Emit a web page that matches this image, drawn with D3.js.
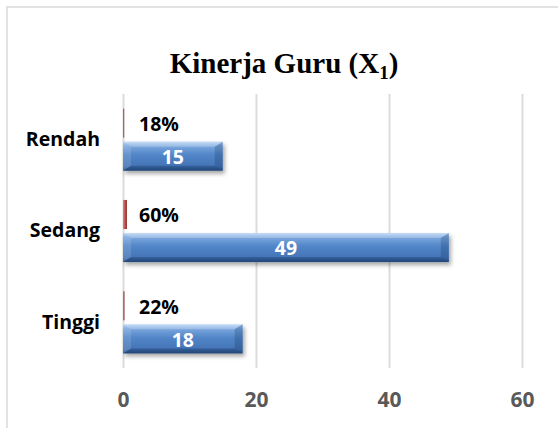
<!DOCTYPE html>
<html>
<head>
<meta charset="utf-8">
<script src="https://cdn.jsdelivr.net/npm/d3@7"></script>
<style>
  body { margin: 0; background: #fff; }
  svg { display: block; }
</style>
</head>
<body>
<svg id="chart"></svg>
<script>
// Data
const categories = ["Rendah", "Sedang", "Tinggi"];
const jumlah = [15, 49, 18];
const persen = [0.18, 0.60, 0.22];
const xTicks = [0, 20, 40, 60];
const series = ["persen", "jumlah"];

// Size
const width = 558,
    height = 428;
const plot = { top: 94, bottom: 368, left: 123, right: 522 };
const labelFont = "'Open Sans', 'DejaVu Sans', sans-serif";

const svg = d3.select("#chart")
    .attr("width", width)
    .attr("height", height);

// Defs: gradients + shadow
const defs = svg.append("defs");
const blue = defs.append("linearGradient").attr("id", "gBlue")
    .attr("x1", 0).attr("x2", 0).attr("y1", 0).attr("y2", 1);
[["0%", "#b3d0f4"], ["14%", "#7ca8df"], ["45%", "#5286c8"], ["85%", "#4474b6"], ["100%", "#2d5386"]]
    .forEach(s => blue.append("stop").attr("offset", s[0]).attr("stop-color", s[1]));
const red = defs.append("linearGradient").attr("id", "gRed")
    .attr("x1", 0).attr("x2", 1).attr("y1", 0).attr("y2", 0);
[["0%", "#d98b88"], ["50%", "#c0504d"], ["100%", "#8c3431"]]
    .forEach(s => red.append("stop").attr("offset", s[0]).attr("stop-color", s[1]));
const shadow = defs.append("filter").attr("id", "shadow")
    .attr("x", "-10%").attr("y", "-20%").attr("width", "130%").attr("height", "160%");
shadow.append("feDropShadow")
    .attr("dx", 2).attr("dy", 3).attr("stdDeviation", 2)
    .attr("flood-color", "#000").attr("flood-opacity", 0.35);

// Chart border
svg.append("rect")
    .attr("x", 7).attr("y", 7)
    .attr("width", 560).attr("height", 440)
    .attr("fill", "none")
    .attr("stroke", "#d9d9d9")
    .attr("stroke-width", 1.5);

// Title
const title = svg.append("text")
    .attr("x", 284).attr("y", 73)
    .attr("text-anchor", "middle")
    .style("font-family", "'Liberation Serif', 'Times New Roman', serif")
    .style("font-weight", "bold")
    .style("font-size", "29px")
    .attr("fill", "#000");
title.append("tspan").text("Kinerja Guru (X");
title.append("tspan").attr("dy", 6).style("font-size", "19px").text("1");
title.append("tspan").attr("dy", -6).text(")");

// Scales
const x = d3.scaleLinear()
    .domain([0, 60])
    .range([plot.left, plot.right]);

const y = d3.scaleBand()
    .domain(categories)
    .range([plot.top, plot.bottom])
    .paddingInner(0.32)
    .paddingOuter(0.16);

const ySub = d3.scaleBand()
    .domain(series)
    .range([0, y.bandwidth()])
    .paddingInner(0.12);

// Grid + x axis labels
const xAxis = g => g
    .attr("transform", `translate(0,${plot.bottom})`)
    .call(d3.axisBottom(x).tickValues(xTicks).tickSize(-(plot.bottom - plot.top)).tickPadding(24))
    .call(g => g.select(".domain").remove())
    .call(g => g.selectAll(".tick line").attr("stroke", "#dcdcdc").attr("stroke-width", 2))
    .call(g => g.selectAll(".tick text")
        .attr("fill", "#595959")
        .style("font-family", labelFont)
        .style("font-weight", "bold")
        .style("font-size", "21px"));
svg.append("g").attr("class", "xaxis").call(xAxis);

// Category labels
const yAxis = g => g
    .attr("transform", `translate(${plot.left},0)`)
    .call(d3.axisLeft(y).tickSize(0).tickPadding(23))
    .call(g => g.select(".domain").remove())
    .call(g => g.selectAll(".tick text")
        .attr("fill", "#000")
        .style("font-family", labelFont)
        .style("font-weight", "bold")
        .style("font-size", "19.5px"));
svg.append("g").attr("class", "yaxis").call(yAxis);

// Bar with bevel
const bevelBar = (g, x0, y0, w, h, fill) => {
    g.append("rect")
        .attr("x", x0).attr("y", y0)
        .attr("width", w).attr("height", h)
        .attr("fill", fill)
        .attr("filter", "url(#shadow)");
    const bx = Math.min(8, w / 2), by = 5;
    // top facet
    g.append("polygon")
        .attr("points", [[x0, y0], [x0 + w, y0], [x0 + w - bx, y0 + by], [x0 + bx, y0 + by]].join(" "))
        .attr("fill", "#fff").attr("fill-opacity", 0.25);
    // bottom facet
    g.append("polygon")
        .attr("points", [[x0, y0 + h], [x0 + w, y0 + h], [x0 + w - bx, y0 + h - by], [x0 + bx, y0 + h - by]].join(" "))
        .attr("fill", "#0b2950").attr("fill-opacity", 0.3);
    // right facet
    g.append("polygon")
        .attr("points", [[x0 + w, y0], [x0 + w, y0 + h], [x0 + w - bx, y0 + h - by], [x0 + w - bx, y0 + by]].join(" "))
        .attr("fill", "#0b2950").attr("fill-opacity", 0.22);
    // left facet
    g.append("polygon")
        .attr("points", [[x0, y0], [x0, y0 + h], [x0 + bx, y0 + h - by], [x0 + bx, y0 + by]].join(" "))
        .attr("fill", "#fff").attr("fill-opacity", 0.12);
};

const bars = svg.append("g").attr("class", "bars");
categories.forEach((c, i) => {
    // persen (red)
    const yr = y(c) + ySub("persen");
    bars.append("rect")
        .attr("x", x(0)).attr("y", yr)
        .attr("width", x(persen[i]) - x(0))
        .attr("height", ySub.bandwidth())
        .attr("fill", "url(#gRed)");
    bars.append("text")
        .attr("x", x(0) + 16)
        .attr("y", yr + ySub.bandwidth() / 2 + 1)
        .attr("dy", "0.35em")
        .attr("fill", "#000")
        .style("font-family", labelFont)
        .style("font-weight", "bold")
        .style("font-size", "19.5px")
        .text(Math.round(persen[i] * 100) + "%");

    // jumlah (blue)
    const yb = y(c) + ySub("jumlah");
    const gb = bars.append("g");
    bevelBar(gb, x(0), yb, x(jumlah[i]) - x(0), ySub.bandwidth(), "url(#gBlue)");
    gb.append("text")
        .attr("x", (x(0) + x(jumlah[i])) / 2)
        .attr("y", yb + ySub.bandwidth() / 2 + 1)
        .attr("dy", "0.35em")
        .attr("text-anchor", "middle")
        .attr("fill", "#fff")
        .style("font-family", labelFont)
        .style("font-weight", "bold")
        .style("font-size", "19.5px")
        .text(jumlah[i]);
});
</script>
</body>
</html>
